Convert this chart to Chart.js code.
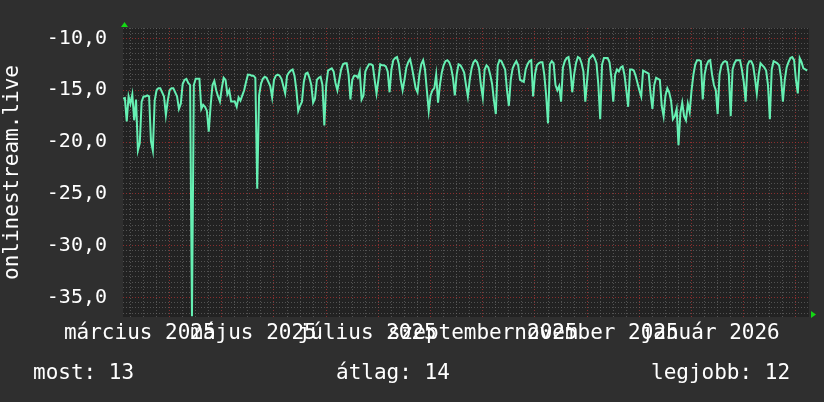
<!DOCTYPE html>
<html>
<head>
<meta charset="utf-8">
<script src="https://cdn.jsdelivr.net/npm/chart.js@4.4.1/dist/chart.umd.min.js"></script>
<style>
  html, body { margin: 0; padding: 0; background: #2f2f2f; }
  #wrap { position: relative; width: 824px; height: 402px; }
  canvas { display: block; }
  .stat { position: absolute; top: 362px; font: 21px "DejaVu Sans Mono", monospace; line-height: 21px; color: #fff; white-space: pre; }
</style>
</head>
<body>
<div id="wrap">
  <canvas id="chart" width="824" height="402"></canvas>
</div>
<script>
/* DATA */
const startDate = "2025-02-20";
const totalDays = 368;

const monthLabels = ["március 2025", "május 2025", "július 2025", "szeptember 2025", "november 2025", "január 2026"];
const monthDates = ["2025-03-01", "2025-05-01", "2025-07-01", "2025-09-01", "2025-11-01", "2026-01-01"];
const firstMonday = "2025-02-24";
const firstMajorMonday = "2025-03-17";

const yMin = -36.87, yMax = -9.0;

const statNames = ["most", "átlag", "legjobb"];
const statValues = [13, 14, 12];

// one value per day from startDate
const values = [
  -15.8, -15.75, -18.0, -15.6, -16.3, -15.4, -17.9,
  -15.9, -20.8, -20.1, -16.1, -15.6, -15.6, -15.5,
  -15.6, -19.9, -20.8, -16.0, -15.0, -14.8, -14.8,
  -15.2, -15.6, -17.4, -16.0, -15.0, -14.8, -14.8,
  -15.2, -15.6, -16.8, -16.3, -14.4, -14.0, -13.9,
  -14.3, -14.5, -36.8, -14.5, -13.9, -13.9, -13.9,
  -16.8, -16.4, -16.6, -17.0, -19.0, -16.5, -14.5,
  -14.1, -15.0, -15.6, -16.1, -14.8, -13.8, -14.0,
  -15.4, -15.0, -16.1, -16.1, -16.1, -16.6, -15.7,
  -16.0, -15.5, -15.0, -14.2, -13.5, -13.5, -13.6,
  -13.6, -13.8, -24.5, -15.5, -14.4, -13.9, -13.7,
  -13.8, -14.2, -14.6, -15.7, -14.0, -13.6, -13.5,
  -13.6, -13.9, -14.6, -15.3, -13.6, -13.3, -13.1,
  -13.0, -13.6, -15.0, -17.0, -16.5, -16.1, -14.2,
  -13.4, -13.3, -13.8, -14.5, -16.2, -15.8, -14.0,
  -13.8, -13.7, -14.5, -18.4, -14.5, -13.1, -13.0,
  -12.9, -13.2, -14.3, -15.0, -14.0, -13.0, -12.5,
  -12.4, -12.4, -13.5, -15.9, -14.0, -13.6, -13.6,
  -13.8, -13.2, -15.9, -15.5, -13.2, -12.8, -12.5,
  -12.5, -12.6, -14.0, -15.3, -14.0, -12.5, -12.6,
  -12.6, -12.7, -13.2, -15.2, -13.0, -12.1, -11.9,
  -11.8, -12.5, -14.0, -15.0, -14.0, -12.8, -12.3,
  -12.0, -12.8, -13.8, -14.8, -15.2, -13.5, -12.5,
  -12.1, -13.0, -15.0, -17.0, -15.5, -15.0, -14.8,
  -13.5, -16.2, -14.5, -13.3, -12.6, -12.2, -12.1,
  -12.3, -12.8, -13.8, -15.5, -13.5, -12.5, -12.6,
  -12.9, -13.3, -14.5, -15.6, -14.0, -12.9, -12.3,
  -12.1, -12.3, -12.9, -14.5, -15.7, -13.0, -12.6,
  -12.8, -13.5, -14.4, -16.0, -17.3, -12.6, -12.1,
  -12.2, -12.6, -13.0, -15.0, -16.5, -14.0, -12.9,
  -12.5, -12.2, -12.6, -14.0, -14.1, -14.2, -13.0,
  -12.5, -12.2, -12.1, -15.6, -13.5, -12.6, -12.4,
  -12.3, -12.3, -13.5, -15.5, -18.2, -12.5, -12.2,
  -12.4, -14.5, -15.0, -14.6, -16.1, -12.8, -12.2,
  -11.9, -11.8, -13.0, -15.2, -13.5, -12.4, -11.8,
  -11.9, -12.4, -13.2, -16.1, -14.0, -12.0, -11.8,
  -11.6, -11.9, -12.4, -14.5, -17.8, -12.5, -11.9,
  -11.9, -11.9, -12.3, -13.8, -16.1, -13.5, -13.0,
  -13.2, -12.8, -12.7, -13.5, -15.0, -16.6, -13.0,
  -13.0, -13.1, -13.6, -14.3, -15.0, -15.6, -13.1,
  -13.2, -13.3, -13.4, -15.3, -16.8, -14.5, -13.8,
  -13.9, -14.0, -16.5, -17.5, -15.5, -14.8, -15.2,
  -16.0, -17.8, -17.5, -16.8, -20.3, -17.2, -16.2,
  -17.5, -17.9, -16.3, -17.1, -15.0, -13.5, -12.5,
  -12.1, -12.1, -12.2, -15.9, -13.5, -12.6, -12.2,
  -12.1, -13.5, -14.5, -15.0, -17.3, -13.5, -12.6,
  -12.3, -12.2, -12.3, -13.5, -17.5, -13.0, -12.4,
  -12.1, -12.1, -12.1, -13.0, -14.2, -16.1, -12.6,
  -12.2, -12.2, -12.6, -13.8, -15.3, -13.5, -12.4,
  -12.6, -12.8, -13.1, -14.5, -17.8, -13.0, -12.2,
  -12.3, -12.4, -12.6, -13.8, -16.1, -14.0, -12.8,
  -12.3, -11.9, -11.8, -12.1, -14.0, -15.3, -11.9,
  -12.3, -12.9, -13.0, -13.1
];

/* HELPERS */
const dayOf = s => Math.round((Date.parse(s) - Date.parse(startDate)) / 86400000);
const monthDays = monthDates.map(dayOf);
const mondayStart = dayOf(firstMonday);
const majorStart = dayOf(firstMajorMonday);

const isWeek = d => d >= mondayStart && (d - mondayStart) % 7 === 0;
const isMajorWeek = d => d >= majorStart && (d - majorStart) % 28 === 0;

let xTickValues = [];
for (let d = mondayStart; d < totalDays; d += 7) xTickValues.push(d);
monthDays.forEach(d => { if (!xTickValues.includes(d)) xTickValues.push(d); });
xTickValues.sort((a, b) => a - b);

let yTickValues = [];
for (let v = Math.ceil(yMin * 2) / 2; v <= yMax + 0.001; v += 0.5) yTickValues.push(Math.round(v * 10) / 10);

const GRID_MINOR = "rgba(115,115,115,0.6)";
const GRID_MAJOR = "rgba(165,50,50,0.8)";
const FONT = "'DejaVu Sans Mono', monospace";

/* PLOT FRAME */
const rrdFrame = {
  id: "rrdFrame",
  beforeDraw(chart) {
    const { ctx, chartArea: a } = chart;
    ctx.save();
    ctx.fillStyle = "#2f2f2f";
    ctx.fillRect(0, 0, chart.width, chart.height);
    ctx.fillStyle = "#222222";
    ctx.fillRect(a.left, a.top, a.right - a.left, a.bottom - a.top);
    ctx.restore();
  },
  afterDraw(chart) {
    const { ctx, chartArea: a } = chart;
    ctx.save();
    ctx.fillStyle = "#14d814";
    ctx.beginPath();
    ctx.moveTo(a.left - 2, a.top - 1);
    ctx.lineTo(a.left + 5, a.top - 1);
    ctx.lineTo(a.left + 1.5, a.top - 6);
    ctx.closePath();
    ctx.fill();
    ctx.beginPath();
    ctx.moveTo(a.right + 2, a.bottom - 6);
    ctx.lineTo(a.right + 2, a.bottom + 1);
    ctx.lineTo(a.right + 7, a.bottom - 2.5);
    ctx.closePath();
    ctx.fill();
    ctx.restore();
  }
};

/* CHART */
new Chart(document.getElementById("chart"), {
  type: "line",
  data: {
    datasets: [{
      data: values.map((v, i) => ({ x: i, y: v })),
      borderColor: "#66f0b3",
      borderWidth: 2,
      pointRadius: 0,
      tension: 0,
      fill: false
    }]
  },
  options: {
    responsive: false,
    animation: false,
    layout: { padding: { top: 14, right: 15, left: 0, bottom: 0 } },
    plugins: { legend: { display: false }, tooltip: { enabled: false } },
    scales: {
      x: {
        type: "linear",
        min: 0,
        max: totalDays,
        afterBuildTicks: s => { s.ticks = xTickValues.map(v => ({ value: v })); },
        afterFit: s => { s.height = 85; },
        ticks: {
          autoSkip: false,
          maxRotation: 0,
          padding: 4,
          color: "#ffffff",
          font: { family: FONT, size: 21 },
          callback: v => {
            const i = monthDays.indexOf(v);
            return i >= 0 ? monthLabels[i] : "";
          }
        },
        grid: {
          drawTicks: false,
          color: c => {
            const v = c.tick ? c.tick.value : -1;
            if (!isWeek(v)) return "rgba(0,0,0,0)";
            return isMajorWeek(v) ? GRID_MAJOR : GRID_MINOR;
          }
        },
        border: { display: false, dash: [1, 2] }
      },
      y: {
        min: yMin,
        max: yMax,
        afterBuildTicks: s => { s.ticks = yTickValues.map(v => ({ value: v })); },
        afterFit: s => { s.width = 123; },
        ticks: {
          autoSkip: false,
          padding: 16,
          color: "#ffffff",
          font: { family: FONT, size: 20 },
          callback: v => (Math.abs(v % 5) < 0.001 ? v.toFixed(1).replace(".", ",") : "")
        },
        grid: {
          drawTicks: false,
          color: c => (c.tick && Math.abs(c.tick.value % 5) < 0.001 ? GRID_MAJOR : GRID_MINOR)
        },
        border: { display: false, dash: [1, 2] },
        title: {
          display: true,
          text: "onlinestream.live",
          color: "#ffffff",
          font: { family: FONT, size: 21 },
          padding: 0
        }
      }
    }
  },
  plugins: [rrdFrame]
});

/* STATS */
const statLeft = [33, 336, 651];
const wrap = document.getElementById("wrap");
statNames.forEach((n, i) => {
  const el = document.createElement("div");
  el.className = "stat";
  el.style.left = statLeft[i] + "px";
  el.textContent = n + ": " + statValues[i];
  wrap.appendChild(el);
});
</script>
</body>
</html>
